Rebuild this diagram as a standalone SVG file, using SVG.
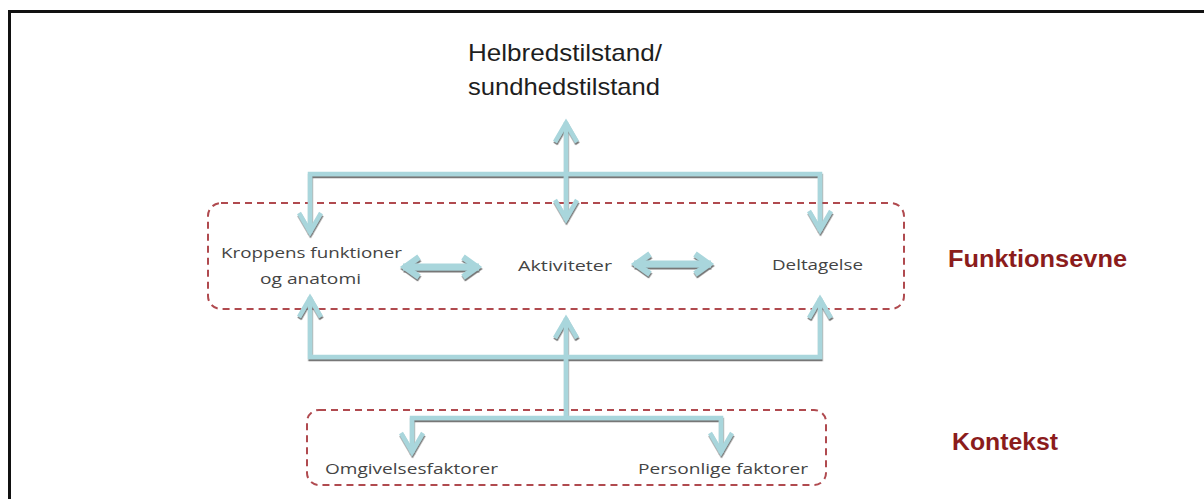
<svg xmlns="http://www.w3.org/2000/svg" width="1204" height="499" viewBox="0 0 1204 499">
  <style>
    .frame { fill: none; stroke: #111; stroke-width: 3; }
    .group { fill: none; stroke: #b04a4f; stroke-width: 2; stroke-dasharray: 7 5; }
    .line { fill: none; stroke: #a9d6dc; stroke-width: 4.5; stroke-linecap: butt; }
    .dbl { fill: none; stroke: #a9d6dc; stroke-width: 7; }
    .title { font-family: "Liberation Sans", Arial, sans-serif; font-size: 24px; fill: #1e1e1e; }
    .label { font-family: "Open Sans", "Liberation Sans", sans-serif; font-size: 15px; fill: #444; }
    .side { font-family: "Liberation Sans", Arial, sans-serif; font-size: 23px; font-weight: bold; fill: #8b1c1c; }
  </style>
  <defs>
    <filter id="shadow" x="-20%" y="-20%" width="140%" height="140%">
      <feDropShadow dx="0.5" dy="2" stdDeviation="0.6" flood-color="#4a4a4a" flood-opacity="0.75"/>
    </filter>
    <marker id="head" markerUnits="userSpaceOnUse" markerWidth="30" markerHeight="30" viewBox="-24 -15 30 30" refX="0" refY="0" orient="auto-start-reverse" overflow="visible">
      <path d="M-20,-11 L-1,0 L-20,11" fill="none" stroke="#a9d6dc" stroke-width="4.5"/>
    </marker>
    <marker id="head2" markerUnits="userSpaceOnUse" markerWidth="30" markerHeight="30" viewBox="-24 -15 30 30" refX="0" refY="0" orient="auto-start-reverse" overflow="visible">
      <path d="M-16,-10 L-2,0 L-16,10" fill="none" stroke="#a9d6dc" stroke-width="6"/>
    </marker>
  </defs>

  <rect width="1204" height="499" fill="#ffffff"/>
  <path class="frame" d="M9.5,499 V11.5 H1204"/>

  <g id="group-funktionsevne">
    <rect class="group" x="208" y="203" width="696" height="106" rx="13"/>
  </g>
  <g id="group-kontekst">
    <rect class="group" x="307" y="410" width="519" height="75" rx="12"/>
  </g>

  <g id="connectors" filter="url(#shadow)">
    <line class="line" x1="566" y1="122" x2="566" y2="220" marker-start="url(#head)" marker-end="url(#head)"/>
    <polyline class="line" points="310,233 310,174 820,174 820,231" marker-start="url(#head)" marker-end="url(#head)"/>
    <polyline class="line" points="310,297 310,357 820,357 820,298" marker-start="url(#head)" marker-end="url(#head)"/>
    <line class="line" x1="566" y1="418" x2="566" y2="318" marker-end="url(#head)"/>
    <polyline class="line" points="412,453 412,418 721,418 721,453" marker-start="url(#head)" marker-end="url(#head)"/>
    <line class="dbl" x1="403" y1="267" x2="479" y2="267" marker-start="url(#head2)" marker-end="url(#head2)"/>
    <line class="dbl" x1="634" y1="264" x2="711" y2="264" marker-start="url(#head2)" marker-end="url(#head2)"/>
  </g>

  <g id="node-helbred">
    <text class="title" x="468" y="61" textLength="194" lengthAdjust="spacingAndGlyphs">Helbredstilstand/</text>
    <text class="title" x="468" y="95" textLength="192" lengthAdjust="spacingAndGlyphs">sundhedstilstand</text>
  </g>
  <g id="node-kroppens">
    <text class="label" x="221" y="258" textLength="181" lengthAdjust="spacingAndGlyphs">Kroppens funktioner</text>
    <text class="label" x="260" y="284" textLength="101" lengthAdjust="spacingAndGlyphs">og anatomi</text>
  </g>
  <g id="node-aktiviteter">
    <text class="label" x="518" y="271" textLength="94" lengthAdjust="spacingAndGlyphs">Aktiviteter</text>
  </g>
  <g id="node-deltagelse">
    <text class="label" x="772" y="270" textLength="91" lengthAdjust="spacingAndGlyphs">Deltagelse</text>
  </g>
  <g id="node-omgivelses">
    <text class="label" x="325" y="474" textLength="173" lengthAdjust="spacingAndGlyphs">Omgivelsesfaktorer</text>
  </g>
  <g id="node-personlige">
    <text class="label" x="638" y="474" textLength="170" lengthAdjust="spacingAndGlyphs">Personlige faktorer</text>
  </g>
  <g id="label-funktionsevne">
    <text class="side" x="948" y="267" textLength="179" lengthAdjust="spacingAndGlyphs">Funktionsevne</text>
  </g>
  <g id="label-kontekst">
    <text class="side" x="952" y="450" textLength="106" lengthAdjust="spacingAndGlyphs">Kontekst</text>
  </g>
</svg>
